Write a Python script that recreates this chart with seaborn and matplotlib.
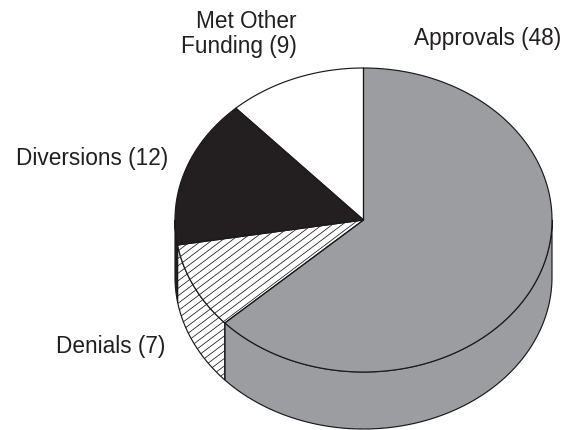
import numpy as np
import matplotlib
matplotlib.use("Agg")
import matplotlib.pyplot as plt
from matplotlib.patches import Polygon
import seaborn as sns

# Case outcomes
categories = ["Approvals", "Denials", "Diversions", "Met Other Funding"]
counts = [48, 7, 12, 9]
label_texts = ["Approvals (48)", "Denials (7)", "Diversions (12)", "Met Other\nFunding (9)"]

# Slice styling
face_colors = ["#9c9da1", "white", "#231f20", "white"]
hatched = [False, True, False, False]

sns.set_theme(style="white")
plt.rcParams["font.family"] = ["Liberation Sans", "DejaVu Sans"]

W, H = 568, 430
fig = plt.figure(figsize=(W / 100, H / 100), dpi=100)
ax = fig.add_axes([0, 0, 1, 1])
ax.set_xlim(0, W)
ax.set_ylim(H, 0)
ax.axis("off")

# Pie geometry in pixel space (tilted disc)
cx, cy, rx, ry, depth = 363.5, 220.0, 188.5, 152.0, 57.0
edge = "#1a1a1a"
lw = 0.85


def arc(t0, t1, n=200):
    t = np.radians(np.linspace(t0, t1, n))
    return np.column_stack([cx + rx * np.cos(t), cy - ry * np.sin(t)])


def add_hatch(patch, zorder):
    # Diagonal rules rising to the right, clipped to the patch outline
    slope = np.tan(np.radians(37))
    step = 7.5
    xs = np.array([0.0, W])
    for c in np.arange(-200, H + W * slope + 200, step):
        ys = c - slope * xs
        ln, = ax.plot(xs, ys, color=edge, linewidth=0.55, zorder=zorder)
        ln.set_clip_path(patch)


def add_face(pts, fc, hatch, zorder):
    p = Polygon(pts, closed=True, facecolor=fc, edgecolor="none", zorder=zorder)
    ax.add_patch(p)
    if hatch:
        add_hatch(p, zorder + 0.1)
    ax.add_patch(Polygon(pts, closed=True, facecolor="none", edgecolor=edge,
                         linewidth=lw, joinstyle="round", zorder=zorder + 0.2))


total = float(sum(counts))
spans = [c / total * 360.0 for c in counts]
starts = 90.0 - np.concatenate([[0.0], np.cumsum(spans)[:-1]])
ends = starts - np.array(spans)

# Side walls: only the front half of the rim (angles in [-180, 0]) is visible
for a0, a1, fc, hs in zip(starts, ends, face_colors, hatched):
    for lo_b, hi_b in [(-180.0, 0.0), (-540.0, -360.0)]:
        lo, hi = max(a1, lo_b), min(a0, hi_b)
        if hi - lo <= 0:
            continue
        top = arc(lo, hi)
        bottom = top[::-1] + np.array([0.0, depth])
        add_face(np.vstack([top, bottom]), fc, hs, 1)

# Top faces
for a0, a1, fc, hs in zip(starts, ends, face_colors, hatched):
    pts = np.vstack([[cx, cy], arc(a0, a1)])
    add_face(pts, fc, hs, 2)

# Category labels
label_pos = {
    "Approvals": (488, 39, "center"),
    "Denials": (111, 347, "center"),
    "Diversions": (92, 159, "center"),
    "Met Other Funding": (297, 34, "right"),
}
for cat, txt in zip(categories, label_texts):
    x, y, ha = label_pos[cat]
    ax.text(x, y, txt, ha=ha, va="center", multialignment=ha,
            fontsize=16.3, color="#231f20", linespacing=1.15, zorder=3)

fig.savefig("out.png", dpi=100, facecolor="white")
